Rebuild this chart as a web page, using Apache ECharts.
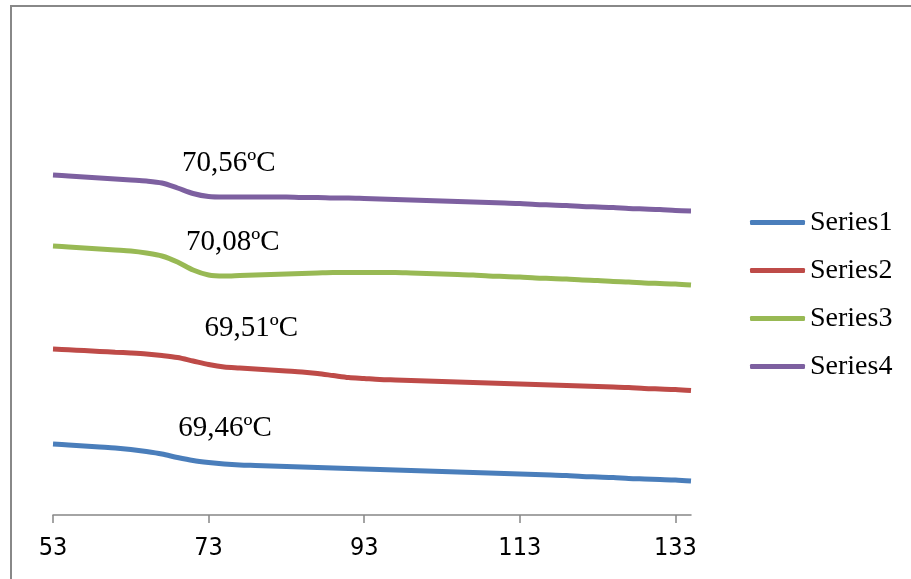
<!DOCTYPE html>
<html>
<head>
<meta charset="utf-8">
<script src="https://cdn.jsdelivr.net/npm/echarts@6/dist/echarts.min.js"></script>
<style>
  html, body { margin: 0; padding: 0; background: #fff; }
  #chart { width: 911px; height: 579px; }
</style>
</head>
<body>
<div id="chart"></div>
<script>
// Temperature (°C) sampled every 2 degrees
const temperatures = [53,55,57,59,61,63,65,67,69,71,73,75,77,79,81,83,85,87,89,91,93,95,97,99,101,103,105,107,109,111,113,115,117,119,121,123,125,127,129,131,133,135];

// Heat-flow traces (arbitrary stacked offset units)
const series1 = [7.1,7.0,6.9,6.8,6.7,6.55,6.35,6.1,5.75,5.45,5.25,5.1,5.0,4.95,4.9,4.85,4.8,4.75,4.7,4.65,4.6,4.55,4.5,4.45,4.4,4.35,4.3,4.25,4.2,4.15,4.1,4.05,4.0,3.95,3.85,3.8,3.75,3.65,3.6,3.55,3.5,3.4];
const series2 = [16.6,16.52,16.44,16.36,16.28,16.2,16.1,15.95,15.75,15.4,15.05,14.8,14.7,14.6,14.5,14.4,14.3,14.15,13.95,13.75,13.65,13.55,13.5,13.45,13.4,13.35,13.3,13.25,13.2,13.15,13.1,13.05,13.0,12.95,12.9,12.85,12.8,12.75,12.65,12.6,12.55,12.45];
const series3 = [26.9,26.8,26.7,26.6,26.5,26.4,26.2,25.9,25.3,24.5,24.0,23.9,23.95,24.0,24.05,24.1,24.15,24.2,24.25,24.25,24.25,24.25,24.25,24.2,24.15,24.1,24.05,24.0,23.9,23.85,23.8,23.7,23.65,23.6,23.5,23.45,23.35,23.3,23.2,23.15,23.1,23.0];
const series4 = [34.0,33.9,33.8,33.7,33.6,33.5,33.4,33.2,32.7,32.15,31.85,31.8,31.8,31.8,31.8,31.8,31.75,31.75,31.7,31.7,31.65,31.6,31.55,31.5,31.45,31.4,31.35,31.3,31.25,31.2,31.15,31.05,31.0,30.95,30.85,30.8,30.75,30.65,30.6,30.55,30.45,30.4];

const seriesNames = ['Series1', 'Series2', 'Series3', 'Series4'];
const xTicks = [53, 73, 93, 113, 133];

// Glass-transition temperatures written beside each trace
const tgValues = [69.46, 69.51, 70.08, 70.56];
// Where each Tg note sits, in axis units [temperature, signal]
const tgNoteAnchors = [[75.1, 8.7], [78.5, 18.7], [76.1, 27.3], [75.6, 35.2]];

const colors = ['#4A7EBB', '#BE4B48', '#98B954', '#7D60A0'];
const traces = [series1, series2, series3, series4];

const fmtTg = v => v.toFixed(2).replace('.', ',') + 'ºC';

const chart = echarts.init(document.getElementById('chart'), null, { renderer: 'canvas' });

const serif = "'Liberation Serif', 'Times New Roman', serif";
const narrowSans = "'DejaVu Sans Condensed', 'Liberation Sans Narrow', 'Arial Narrow', Roboto, sans-serif";

chart.setOption({
  animation: false,
  backgroundColor: '#ffffff',
  color: colors,
  graphic: [{
    type: 'rect',
    shape: { x: 11, y: 6, width: 1000, height: 700 },
    style: { fill: 'none', stroke: '#888888', lineWidth: 2 },
    silent: true
  }],
  grid: { left: 53, right: 220, top: 25, bottom: 64, containLabel: false },
  legend: {
    data: seriesNames,
    orient: 'vertical',
    left: 745,
    top: 202,
    icon: 'roundRect',
    itemWidth: 55,
    itemHeight: 5,
    itemGap: 17,
    textStyle: { fontFamily: serif, fontSize: 28, color: '#000', lineHeight: 31 }
  },
  xAxis: {
    type: 'value',
    min: 53,
    max: 135,
    axisLine: { show: true, lineStyle: { color: '#868686', width: 1.5 } },
    axisTick: { show: true, length: 8, customValues: xTicks, lineStyle: { color: '#868686', width: 1.5 } },
    axisLabel: {
      customValues: xTicks,
      margin: 21,
      color: '#000',
      fontFamily: narrowSans,
      fontSize: 25
    },
    splitLine: { show: false }
  },
  yAxis: {
    type: 'value',
    min: 0,
    max: 49,
    show: false
  },
  series: traces.map((vals, i) => ({
    name: seriesNames[i],
    type: 'line',
    smooth: 0.3,
    showSymbol: false,
    symbol: 'none',
    lineStyle: { width: 5, color: colors[i] },
    itemStyle: { color: colors[i] },
    data: temperatures.map((t, k) => [t, vals[k]]),
    markPoint: {
      symbol: 'circle',
      symbolSize: 1,
      itemStyle: { color: 'rgba(0,0,0,0)' },
      silent: true,
      label: {
        show: true,
        position: 'inside',
        color: '#000',
        fontFamily: serif,
        fontSize: 29,
        formatter: () => fmtTg(tgValues[i])
      },
      data: [{ coord: tgNoteAnchors[i] }]
    }
  }))
});
</script>
</body>
</html>
